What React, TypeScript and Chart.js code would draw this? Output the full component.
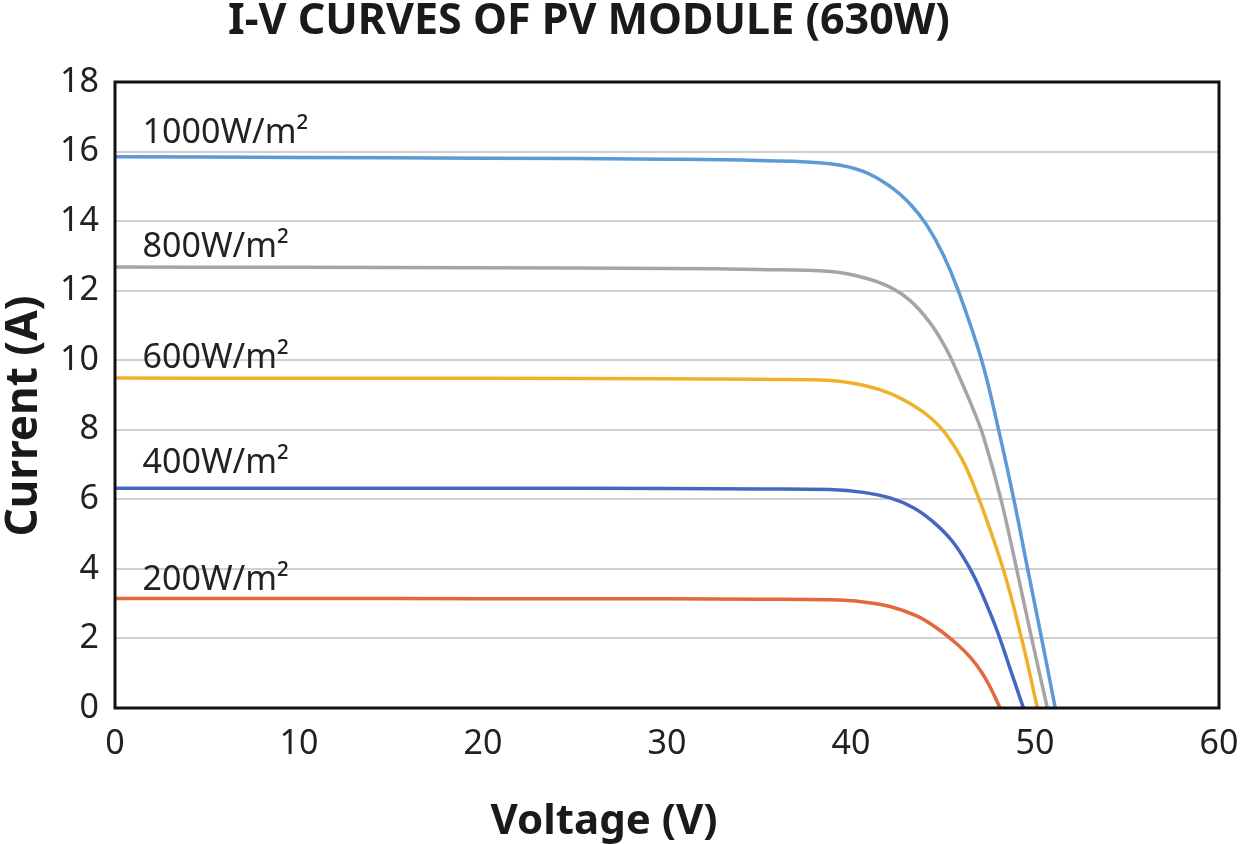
import * as React from 'react';
import {useRef, useEffect} from 'react';
import {Chart, registerables} from 'chart.js';

Chart.register(...registerables);

// I-V points, voltage (V) / current (A)
const v1000 = [0, 10, 20, 30, 35, 38.86, 40.67, 42.12, 43.2, 44.1, 45.0, 45.83, 47.1, 48.0, 48.85, 49.6, 50.36, 51.1];
const i1000 = [15.85, 15.83, 15.81, 15.78, 15.74, 15.65, 15.43, 15.0, 14.5, 13.9, 13.05, 12.0, 10.0, 8.05, 6.0, 4.0, 2.0, 0];
const v800 = [0, 10, 20, 30, 35, 38.86, 40.67, 42.12, 43.2, 44.29, 45.2, 45.92, 46.65, 47.2, 48.15, 49.0, 49.82, 50.67];
const i800 = [12.68, 12.67, 12.66, 12.64, 12.61, 12.55, 12.38, 12.1, 11.72, 11.08, 10.3, 9.48, 8.58, 7.8, 6.0, 4.0, 2.0, 0];
const v600 = [0, 10, 20, 30, 35, 38.86, 40.67, 42.12, 43.39, 44.29, 45.0, 45.74, 46.29, 47.0, 48.28, 49.28, 50.13];
const i600 = [9.49, 9.48, 9.48, 9.47, 9.45, 9.42, 9.28, 9.05, 8.7, 8.36, 7.98, 7.42, 6.88, 5.95, 3.98, 1.98, 0];
const v400 = [0, 10, 20, 30, 35, 38.86, 40.67, 42.12, 43.39, 44.47, 45.56, 46.47, 47.01, 47.92, 48.64, 49.37];
const i400 = [6.32, 6.32, 6.32, 6.31, 6.3, 6.28, 6.2, 6.04, 5.76, 5.35, 4.76, 4.0, 3.42, 2.25, 1.14, 0];
const v200 = [0, 10, 20, 30, 35, 38.86, 40.67, 42.12, 43.57, 44.66, 45.8, 46.5, 47.1, 47.6, 48.1];
const i200 = [3.15, 3.15, 3.14, 3.14, 3.13, 3.11, 3.05, 2.92, 2.65, 2.3, 1.82, 1.45, 1.03, 0.56, 0];

const seriesNames = ['1000W/m²', '800W/m²', '600W/m²', '400W/m²', '200W/m²'];
const seriesColors = ['#5b9bd5', '#a5a5a5', '#efb12b', '#4468c2', '#e2693a'];
const seriesVoltages = [v1000, v800, v600, v400, v200];
const seriesCurrents = [i1000, i800, i600, i400, i200];
// where each irradiance label sits, in data units
const labelX = [1.5, 1.5, 1.5, 1.5, 1.5];
const labelY = [16.63, 13.33, 10.14, 7.13, 3.76];

const FONT = '"Noto Sans", sans-serif';

const textPlugin = {
  id: 'ivText',
  afterDraw(chart: any) {
    const {ctx, chartArea, scales} = chart;
    ctx.save();
    // frame
    ctx.strokeStyle = '#111';
    ctx.lineWidth = 3;
    ctx.strokeRect(chartArea.left, chartArea.top, chartArea.right - chartArea.left, chartArea.bottom - chartArea.top);

    // curve labels
    ctx.fillStyle = '#222';
    ctx.font = `34px ${FONT}`;
    ctx.textAlign = 'left';
    ctx.textBaseline = 'alphabetic';
    seriesNames.forEach((name, i) => {
      ctx.fillText(name, scales.x.getPixelForValue(labelX[i]), scales.y.getPixelForValue(labelY[i]) + 13);
    });

    // titles
    ctx.fillStyle = '#1a1a1a';
    ctx.textAlign = 'center';
    ctx.font = `bold 43px ${FONT}`;
    ctx.fillText('I-V CURVES OF PV MODULE (630W)', 589, 34);
    ctx.font = `bold 42px ${FONT}`;
    ctx.fillText('Voltage (V)', 604, 834);
    ctx.translate(37, 416);
    ctx.rotate(-Math.PI / 2);
    ctx.font = `bold 44px ${FONT}`;
    ctx.fillText('Current (A)', 0, 0);
    ctx.restore();
  }
};

function IVChart(): JSX.Element {
  const canvasRef = useRef<HTMLCanvasElement>(null);

  useEffect(() => {
    document.body.style.margin = '0';
    if (!canvasRef.current) return;
    const chart = new Chart(canvasRef.current, {
      type: 'scatter',
      data: {
        datasets: seriesNames.map((name, i) => ({
          label: name,
          data: seriesVoltages[i].map((v, j) => ({x: v, y: seriesCurrents[i][j]})),
          showLine: true,
          borderColor: seriesColors[i],
          backgroundColor: seriesColors[i],
          borderWidth: 3.5,
          pointRadius: 0,
          tension: 0.4,
        })),
      },
      options: {
        animation: false,
        responsive: false,
        devicePixelRatio: 1,
        layout: {padding: {top: 82, right: 23, bottom: 0, left: 0}},
        plugins: {
          legend: {display: false},
          title: {display: false},
          tooltip: {enabled: false},
        },
        scales: {
          x: {
            type: 'linear',
            min: 0,
            max: 60,
            afterFit: (scale: any) => {
              scale.height = 136;
              scale.paddingLeft = 0;
              scale.paddingRight = 0;
            },
            ticks: {stepSize: 10, padding: 16, color: '#222', font: {family: FONT, size: 34}},
            grid: {display: false, drawTicks: false},
            border: {display: false},
          },
          y: {
            type: 'linear',
            min: 0,
            max: 18,
            afterFit: (scale: any) => {
              scale.width = 115;
              scale.paddingTop = 0;
              scale.paddingBottom = 0;
            },
            ticks: {stepSize: 2, padding: 16, color: '#222', font: {family: FONT, size: 34}},
            grid: {color: '#d0d0d0', lineWidth: 2, drawTicks: false},
            border: {display: false},
          },
        },
      },
      plugins: [textPlugin],
    });
    return () => chart.destroy();
  }, []);

  return (
    <div style={{width: 1242, height: 844}}>
      <canvas ref={canvasRef} width={1242} height={844} />
    </div>
  );
}

export default function App(): JSX.Element {
  return <IVChart />;
}
